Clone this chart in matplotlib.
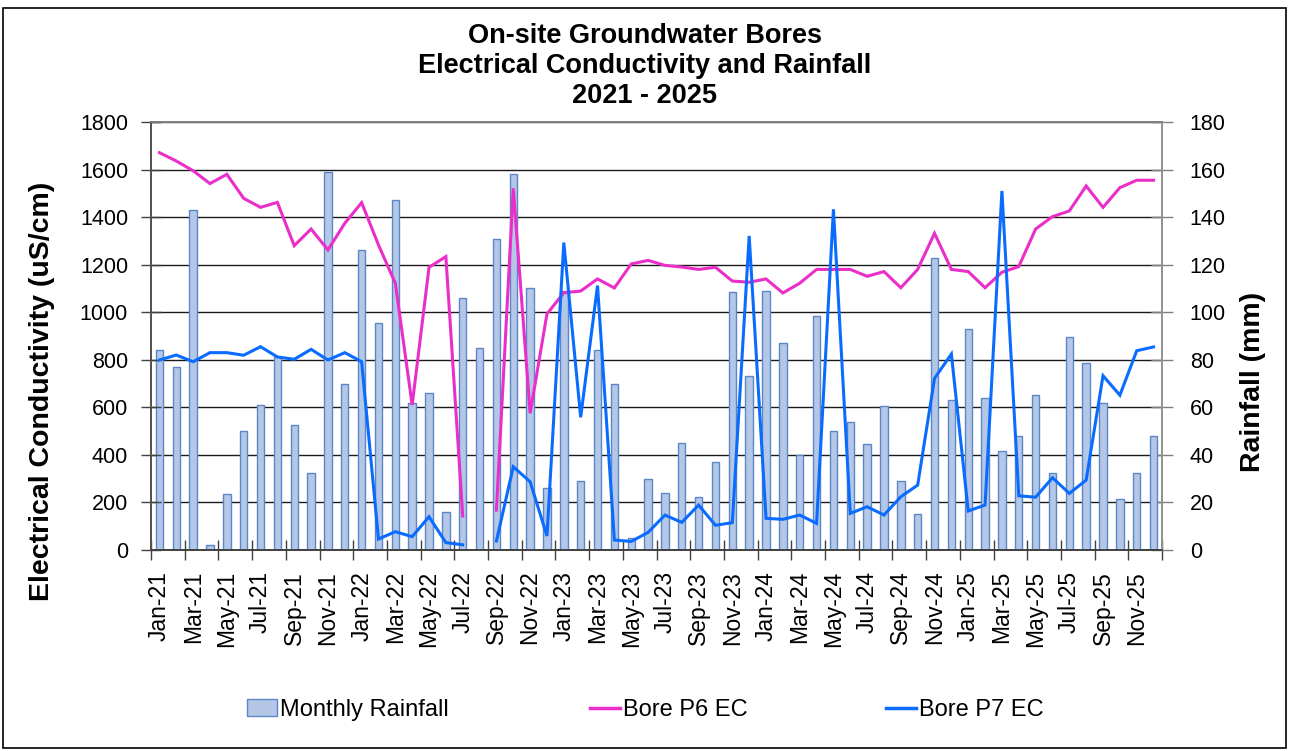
import numpy as np
import matplotlib
matplotlib.use("Agg")
import matplotlib.pyplot as plt
from matplotlib.patches import Rectangle, Patch
from matplotlib.lines import Line2D

plt.rcParams['font.family'] = ['Liberation Sans', 'DejaVu Sans']

month_names = ["Jan", "Feb", "Mar", "Apr", "May", "Jun",
               "Jul", "Aug", "Sep", "Oct", "Nov", "Dec"]
years = ["21", "22", "23", "24", "25"]
months = [f"{m}-{y}" for y in years for m in month_names]

rainfall_mm = [84, 77, 143, 2, 23.5, 50, 61, 81, 52.5, 32.5, 159, 70,
               126, 95.5, 147, 62, 66, 16, 106, 85, 131, 158, 110, 26,
               109, 29, 84, 70, 5, 30, 24, 45, 22.5, 37, 108.5, 73,
               109, 87, 40, 98.5, 50, 54, 44.5, 60.5, 29, 15, 123, 63,
               93, 64, 41.5, 48, 65, 32.5, 89.5, 78.5, 62, 21.5, 32.5, 48]

p6_ec = [1671, 1636, 1595, 1541, 1580, 1479, 1441, 1462, 1280, 1350, 1262, 1374,
         1461, 1283, 1122, 610, 1189, 1234, 143, np.nan, 168, 1521, 575, 993,
         1082, 1089, 1140, 1102, 1203, 1218, 1197, 1190, 1180, 1189, 1131, 1126,
         1140, 1081, 1122, 1180, 1180, 1180, 1151, 1171, 1103, 1180, 1332, 1180,
         1171, 1103, 1168, 1192, 1350, 1402, 1426, 1531, 1441, 1524, 1555, 1555]

p7_ec = [799, 820, 792, 830, 830, 819, 855, 812, 802, 844, 799, 830,
         792, 46, 77, 56, 140, 31, 22, np.nan, 38, 350, 287, 59,
         1293, 558, 1112, 42, 36, 74, 147, 116, 189, 104, 115, 1321,
         133, 129, 147, 112, 1433, 154, 182, 147, 224, 273, 722, 824,
         164, 189, 1510, 228, 222, 304, 238, 294, 733, 651, 838, 854]

ec_ticks = [0, 200, 400, 600, 800, 1000, 1200, 1400, 1600, 1800]
rain_ticks = [0, 20, 40, 60, 80, 100, 120, 140, 160, 180]

BAR_FACE = "#b4c7e7"
BAR_EDGE = "#5b87c6"
P6_COLOR = "#ea2ec9"
P7_COLOR = "#0a6cff"

fig = plt.figure(figsize=(12.9, 7.51), dpi=100)
fig.patch.set_facecolor("white")

# figure border
fig.add_artist(Rectangle((0.002, 0.004), 0.995, 0.985, transform=fig.transFigure,
                         fill=False, edgecolor="black", linewidth=1.2))

left, right, bottom, top = 151 / 1290, 1162 / 1290, 1 - 550 / 751, 1 - 122 / 751
ax_rain = fig.add_axes([left, bottom, right - left, top - bottom])
ax_ec = ax_rain.twinx()

x = np.arange(len(months))

# rainfall bars (drawn underneath)
ax_rain.bar(x, rainfall_mm, width=0.44, color=BAR_FACE, edgecolor=BAR_EDGE,
            linewidth=1.0, zorder=2)
ax_rain.set_ylim(0, 180)
ax_rain.set_yticks(rain_ticks)
ax_rain.yaxis.tick_right()
ax_rain.yaxis.set_label_position("right")
ax_rain.set_axisbelow(True)
ax_rain.grid(axis="y", color="#1a1a1a", linewidth=1.0, zorder=0)
ax_rain.set_xlim(-0.5, len(months) - 0.5)

# EC lines on top
ax_ec.set_zorder(ax_rain.get_zorder() + 1)
ax_ec.patch.set_visible(False)
ax_ec.plot(x, p6_ec, color=P6_COLOR, linewidth=2.2, solid_joinstyle="miter")
ax_ec.plot(x, p7_ec, color=P7_COLOR, linewidth=2.2, solid_joinstyle="miter")
ax_ec.set_ylim(0, 1800)
ax_ec.set_yticks(ec_ticks)
ax_ec.yaxis.tick_left()
ax_ec.yaxis.set_label_position("left")

# x ticks: labels at every other month centre, tick marks at boundaries
ax_rain.set_xticks(x[::2])
ax_rain.set_xticklabels(months[::2], rotation=90, fontsize=16.5)
ax_rain.tick_params(axis="x", which="major", length=0, pad=15)
ax_rain.set_xticks(np.arange(-0.5, len(months), 2), minor=True)
ax_rain.tick_params(axis="x", which="minor", length=14, direction="inout",
                    width=1.0, color="#404040")
ax_ec.tick_params(axis="x", which="both", bottom=False, labelbottom=False)

ax_ec.tick_params(axis="y", labelsize=15.5, length=15, direction="inout",
                  width=1.0, color="#404040", pad=9)
ax_rain.tick_params(axis="y", labelsize=15.5, length=16, direction="inout",
                    width=1.0, color="#808080", pad=12)

for axx in (ax_rain, ax_ec):
    axx.spines["left"].set_color("#505050")
    axx.spines["bottom"].set_color("#404040")
    axx.spines["top"].set_color("#808080")
    axx.spines["right"].set_color("#909090")
    for s in axx.spines.values():
        s.set_linewidth(1.2)

ax_ec.set_ylabel("Electrical Conductivity (uS/cm)", fontsize=20.5,
                 fontweight="bold", va="center")
ax_ec.yaxis.set_label_coords((42 - 151) / 1011, (550 - 391) / 428)
ax_rain.set_ylabel("Rainfall (mm)", fontsize=20.5, fontweight="bold", va="center")
ax_rain.yaxis.set_label_coords((1253 - 151) / 1011, (550 - 382) / 428)

fig.text(0.5, 1 - 66 / 751,
         "On-site Groundwater Bores\nElectrical Conductivity and Rainfall\n2021 - 2025",
         ha="center", va="center", fontsize=19.5, fontweight="bold", linespacing=1.22)

# legend entries
handles = [
    (Patch(facecolor=BAR_FACE, edgecolor=BAR_EDGE, linewidth=1.0), "Monthly Rainfall", 247),
    (Line2D([], [], color=P6_COLOR, linewidth=2.5), "Bore P6 EC", 590),
    (Line2D([], [], color=P7_COLOR, linewidth=2.5), "Bore P7 EC", 886),
]
for h, lab, xpx in handles:
    fig.legend([h], [lab], loc="center left",
               bbox_to_anchor=(xpx / 1290, 1 - 710 / 751),
               frameon=False, fontsize=17, handlelength=1.25,
               handletextpad=0.15, borderpad=0, borderaxespad=0)

fig.savefig("out.png", dpi=100, facecolor="white")
